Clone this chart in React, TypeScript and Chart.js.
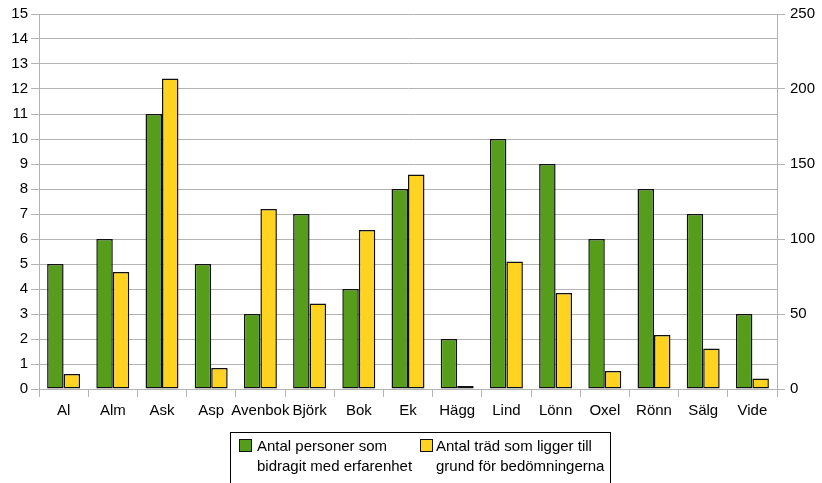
import React, { useEffect, useRef } from "react";
import { Chart, registerables } from "chart.js";

Chart.register(...registerables);

const categories = ["Al", "Alm", "Ask", "Asp", "Avenbok", "Björk", "Bok", "Ek", "Hägg", "Lind", "Lönn", "Oxel", "Rönn", "Sälg", "Vide"];
const personer = [5, 6, 11, 5, 3, 7, 4, 8, 2, 10, 9, 6, 8, 7, 3];
const trad = [10, 78, 207, 14, 120, 57, 106, 143, 2, 85, 64, 12, 36, 27, 7];
const seriesNames = [
  ["Antal personer som", "bidragit med erfarenhet"],
  ["Antal träd som ligger till", "grund för bedömningerna"],
];
const colors = ["#579d1c", "#ffd320"];

const FONT = "'Liberation Sans', Arial, sans-serif";

export default function App() {
  const ref = useRef<HTMLCanvasElement>(null);
  useEffect(() => {
    document.body.style.margin = "0";
    const ctx = ref.current!;
    const chart = new Chart(ctx, {
      type: "bar",
      data: {
        labels: categories,
        datasets: [
          {
            label: seriesNames[0].join(" "),
            data: personer,
            backgroundColor: colors[0],
            borderColor: "#111",
            borderWidth: 1.5,
            borderSkipped: false,
            yAxisID: "y",
            categoryPercentage: 0.67,
            barPercentage: 1,
          },
          {
            label: seriesNames[1].join(" "),
            data: trad,
            backgroundColor: colors[1],
            borderColor: "#111",
            borderWidth: 1.5,
            borderSkipped: false,
            yAxisID: "y1",
            categoryPercentage: 0.67,
            barPercentage: 1,
          },
        ],
      },
      options: {
        responsive: false,
        animation: false,
        layout: { padding: { top: 14, bottom: 63, left: 0, right: 0 } },
        plugins: { legend: { display: false }, tooltip: { enabled: false } },
        scales: {
          x: {
            grid: { drawOnChartArea: false, color: "#b3b3b3", tickLength: 8, offset: true },
            border: { color: "#b3b3b3" },
            ticks: { color: "#000", font: { family: FONT, size: 15 }, padding: 5, maxRotation: 0, autoSkip: false },
            afterFit: (s: any) => { s.height = 31; },
          },
          y: {
            position: "left",
            min: 0,
            max: 15,
            ticks: { stepSize: 1, color: "#000", font: { family: FONT, size: 15 }, padding: 3 },
            grid: { color: "#b3b3b3", tickLength: 8 },
            border: { color: "#b3b3b3" },
            afterFit: (s: any) => { s.width = 39; },
          },
          y1: {
            position: "right",
            min: 0,
            max: 250,
            ticks: { stepSize: 50, color: "#000", font: { family: FONT, size: 15 }, padding: 5 },
            grid: { drawOnChartArea: false, color: "#b3b3b3", tickLength: 8 },
            border: { color: "#b3b3b3" },
            afterFit: (s: any) => { s.width = 45; },
          },
        },
      },
    });
    return () => chart.destroy();
  }, []);

  const swatch = (c: string): React.CSSProperties => ({
    position: "absolute",
    width: 11,
    height: 11,
    background: c,
    border: "1px solid #111",
    top: 6,
  });
  const text: React.CSSProperties = {
    position: "absolute",
    top: 3,
    fontFamily: FONT,
    fontSize: 15,
    lineHeight: "20px",
    color: "#000",
    whiteSpace: "nowrap",
  };

  return (
    <div style={{ position: "relative", width: 822, height: 483, background: "#fff", overflow: "hidden" }}>
      <canvas ref={ref} width={822} height={483} style={{ position: "absolute", left: 0, top: 0 }} />
      <div
        style={{
          position: "absolute",
          left: 230,
          top: 432,
          width: 381,
          height: 60,
          border: "1px solid #000",
          boxSizing: "border-box",
        }}
      >
        <div style={{ ...swatch(colors[0]), left: 8 }} />
        <div style={{ ...text, left: 26 }}>
          {seriesNames[0][0]}
          <br />
          {seriesNames[0][1]}
        </div>
        <div style={{ ...swatch(colors[1]), left: 189 }} />
        <div style={{ ...text, left: 205 }}>
          {seriesNames[1][0]}
          <br />
          {seriesNames[1][1]}
        </div>
      </div>
    </div>
  );
}
